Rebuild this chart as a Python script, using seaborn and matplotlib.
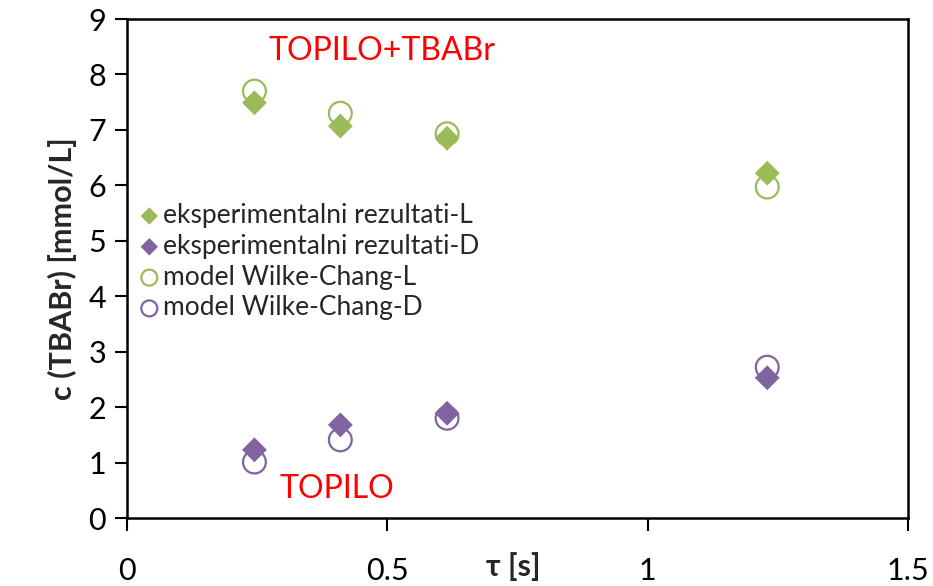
import matplotlib
matplotlib.use("Agg")
import matplotlib.pyplot as plt
import seaborn as sns
import pandas as pd

# residence time [s]
tau = [0.245, 0.41, 0.615, 1.23]

# TBABr concentration [mmol/L]
exp_L = [7.49, 7.07, 6.85, 6.22]
exp_D = [1.23, 1.68, 1.89, 2.53]
model_L = [7.70, 7.30, 6.93, 5.97]
model_D = [1.01, 1.41, 1.80, 2.72]

series_names = [
    "eksperimentalni rezultati-L",
    "eksperimentalni rezultati-D",
    "model Wilke-Chang-L",
    "model Wilke-Chang-D",
]
x_ticks = [0, 0.5, 1, 1.5]
x_tick_labels = ["0", "0.5", "1", "1.5"]
y_ticks = list(range(0, 10))

GREEN = "#9BBB59"
PURPLE = "#8064A2"

sns.set_theme(style="white")
plt.rcParams["font.family"] = ["Lato", "DejaVu Sans"]

rows = []
for name, vals in zip(series_names, [exp_L, exp_D, model_L, model_D]):
    for t, v in zip(tau, vals):
        rows.append({"tau": t, "c": v, "serija": name})
df = pd.DataFrame(rows)

fig = plt.figure(figsize=(9.33, 5.86), dpi=100)
ax = fig.add_axes([0.136, 0.116, 0.837, 0.8515])

styles = {
    series_names[0]: dict(marker="D", s=160, color=GREEN, edgecolor="none"),
    series_names[1]: dict(marker="D", s=160, color=PURPLE, edgecolor="none"),
    series_names[2]: dict(marker="o", s=270, facecolor="none", edgecolor=GREEN, linewidth=1.6),
    series_names[3]: dict(marker="o", s=270, facecolor="none", edgecolor=PURPLE, linewidth=1.6),
}
# open circles drawn first so diamonds sit on top, legend keeps original order
for name in [series_names[2], series_names[3], series_names[0], series_names[1]]:
    sub = df[df["serija"] == name]
    sns.scatterplot(data=sub, x="tau", y="c", ax=ax, label=name, **styles[name])

h, l = ax.get_legend_handles_labels()
order = [l.index(n) for n in series_names]
leg = ax.legend([h[i] for i in order], [l[i] for i in order],
                loc="upper left", bbox_to_anchor=(0.0, 0.65), frameon=False,
                fontsize=19, handletextpad=0.0, borderaxespad=0.0,
                borderpad=0.35, labelspacing=0.22, handlelength=1.0,
                markerscale=0.7)

ax.set_xlim(0, 1.5)
ax.set_ylim(0, 9)
ax.set_xticks(x_ticks)
ax.set_xticklabels(x_tick_labels)
ax.set_yticks(y_ticks)

for side in ["left", "right", "top", "bottom"]:
    ax.spines[side].set_visible(True)
    ax.spines[side].set_color("black")
    ax.spines[side].set_linewidth(1.8)

ax.tick_params(axis="both", which="major", direction="out", length=9, width=1.5,
               color="black", labelsize=22, labelcolor="black")
ax.tick_params(axis="x", pad=19, bottom=True)
ax.tick_params(axis="y", pad=6, left=True)

ax.set_ylabel("c (TBABr) [mmol/L]", fontsize=22, fontweight="bold", labelpad=8)
ax.set_xlabel("τ [s]", fontsize=22, fontweight="bold")
ax.xaxis.set_label_coords(0.495, -0.068)

ax.text(0.181, 0.935, "TOPILO+TBABr", transform=ax.transAxes, color="red",
        fontsize=23, ha="left", va="center")
ax.text(0.196, 0.058, "TOPILO", transform=ax.transAxes, color="red",
        fontsize=23, ha="left", va="center")

fig.savefig("out.png", dpi=100)
